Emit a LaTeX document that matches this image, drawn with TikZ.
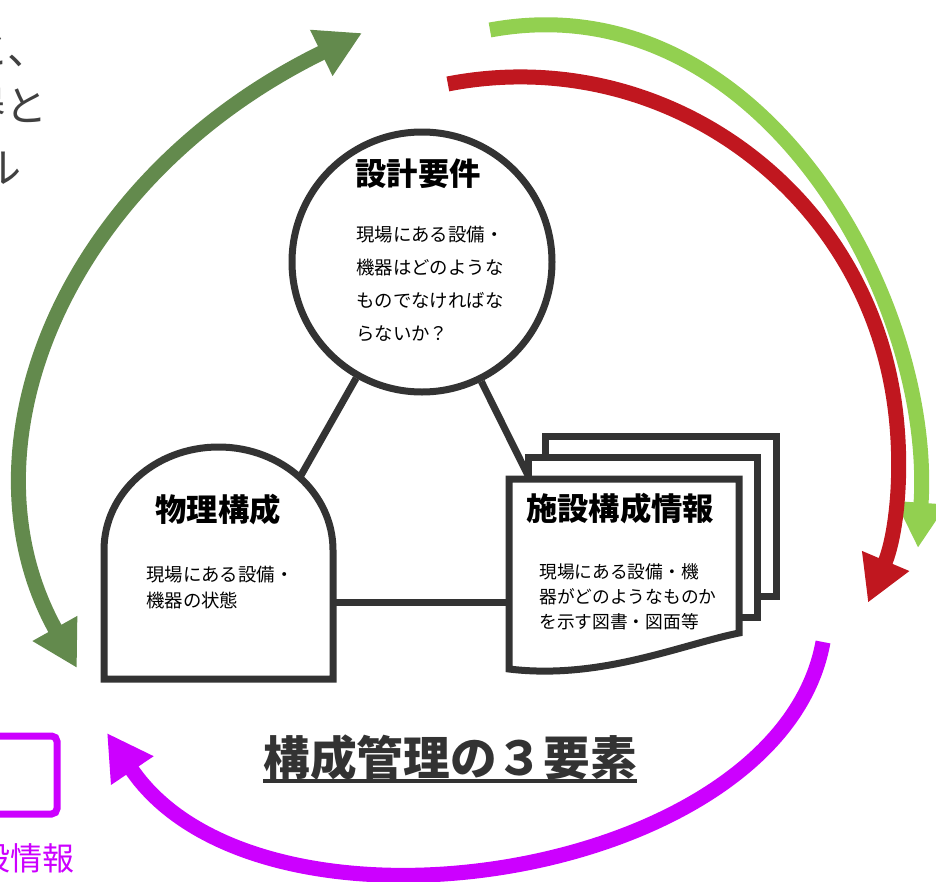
\documentclass[tikz,border=0pt]{standalone}
\usepackage{fontspec}
\setmainfont{Noto Sans CJK JP}
\usetikzlibrary{arrows.meta}
\definecolor{shapegray}{HTML}{333333}
\definecolor{textgray}{HTML}{404040}
\definecolor{darkgreen}{HTML}{638A4D}
\definecolor{lightgreen}{HTML}{92D050}
\definecolor{loopred}{HTML}{C0171F}
\definecolor{loopmag}{HTML}{CC00FF}

\begin{document}
\begin{tikzpicture}[x=0.75pt, y=-0.75pt,
    outline/.style={draw=shapegray, line width=5.25pt, fill=white},
    link/.style={draw=shapegray, line width=5.25pt},
    looparrow/.style={line width=11.25pt, -{Triangle[width=36pt, length=34pt]}},
    dualarrow/.style={line width=11.25pt, {Triangle[width=36pt, length=34pt]}-{Triangle[width=36pt, length=34pt]}},
    heading/.style={font=\fontsize{23.5}{28}\selectfont\bfseries},
    body/.style={font=\fontsize{13.8}{24.75}\selectfont, align=left, anchor=north west, inner sep=0pt},
    cutnote/.style={anchor=base east, inner sep=0pt, text=textgray, font=\fontsize{31.5}{34}\selectfont}]
\useasboundingbox (0,0) rectangle (936,882);

% cut-off text of the slide
\node[cutnote] (noteA) at (50,64) {と、};
\node[cutnote] (noteB) at (48,121) {器と};
\node[cutnote] (noteC) at (22,183) {ル};
\draw[draw=loopmag, line width=5.25pt, rounded corners=4pt] (-100,736) rectangle (57,814);
\node[anchor=base east, text=loopmag, font=\fontsize{24}{28}\selectfont] (noteD) at (79,870) {設情報};

% three elements
\node at (422,262) [outline, circle, minimum size=195pt, inner sep=0pt] (req) {};
\coordinate (physjoin) at (253,560);
\coordinate (docsjoin) at (570,560);
\coordinate (physmid) at (218,602);
\coordinate (docsmid) at (624,602);
\draw[link] (req) -- (physjoin);
\draw[link] (req) -- (docsjoin);
\draw[link] (physmid) -- (docsmid);

\draw[outline] (104,679) -- (104,550) arc[start angle=180, end angle=360, x radius=114.5, y radius=103] -- (333,679) -- cycle;
\draw[outline] (545,436) rectangle (776,596);
\draw[outline] (528,457) rectangle (757,617);
\draw[outline] (509,479) -- (739,479) -- (739,633) .. controls (680,645) and (600,680) .. (509,669) -- cycle;

\node at (418,174) [heading] (reqtitle) {設計要件};
\node at (356,226) [body] (reqtext) {現場にある設備・\\機器はどのような\\ものでなければな\\らないか？};
\node at (218,510) [heading] (phystitle) {物理構成};
\node at (146,566) [body, font=\fontsize{13.8}{19.5}\selectfont] (phystext) {現場にある設備・\\機器の状態};
\node at (620,509) [heading] (docstitle) {施設構成情報};
\node at (539,563) [body, font=\fontsize{13.3}{18.75}\selectfont] (docstext) {現場にある設備・機\\器がどのようなものか\\を示す図書・図面等};

\node at (450,758) [text=shapegray, inner sep=0pt, font=\fontsize{35}{40}\selectfont\bfseries] (title) {構成管理の３要素};
\draw[shapegray, line width=2.6pt] (title.south west) -- (title.south east);

% cycle arrows
\draw[dualarrow, darkgreen] (77,668) .. controls (-45,450) and (61,180) .. (362,33);
\draw[looparrow, lightgreen] (490,30) .. controls (760,-20) and (935,300) .. (918,548);
\draw[looparrow, loopred] (520,455) ++(-101:378) arc[start angle=-101, end angle=23, radius=378];
\draw[looparrow, loopmag] (823,642) .. controls (780,880) and (260,960) .. (107,733);
\end{tikzpicture}
\end{document}
